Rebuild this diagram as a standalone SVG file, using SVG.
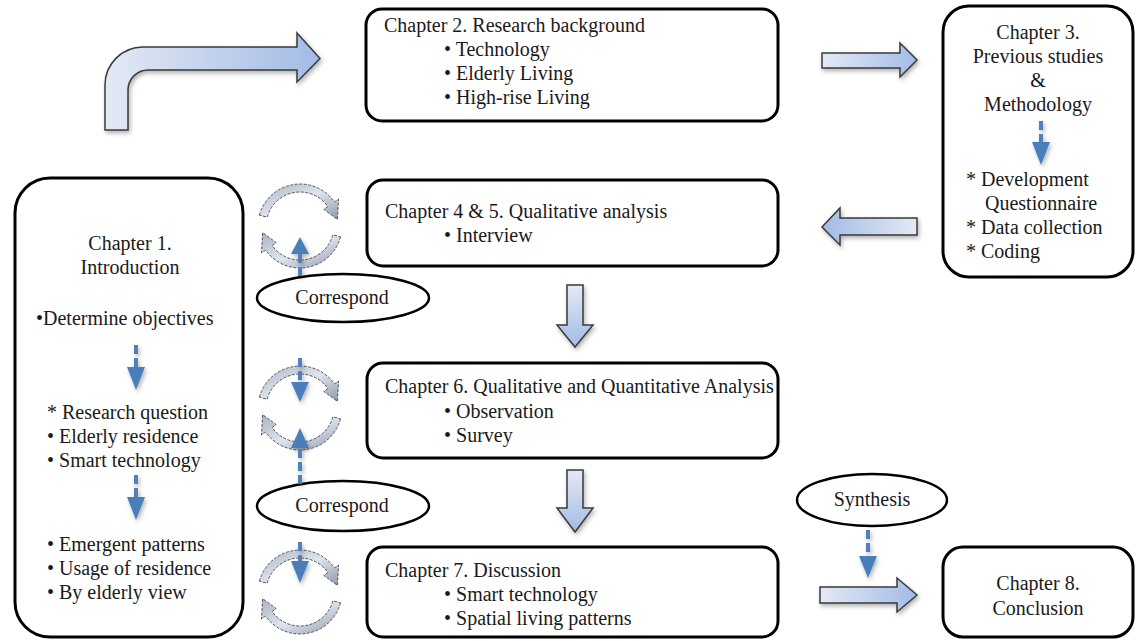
<svg xmlns="http://www.w3.org/2000/svg" width="1136" height="641" viewBox="0 0 1136 641">
<defs>
<style>
.box{fill:#fff;stroke:#000;stroke-width:3}
.ell{fill:#fff;stroke:#000;stroke-width:2.5}
.t{font-family:"Liberation Serif","Times New Roman",serif;font-size:20px;fill:#1a1a1a}
.c{text-anchor:middle}
.blk{stroke:#3a3a3a;stroke-width:1.5;filter:url(#sh)}
.dsh{stroke:#4f81bd;stroke-width:4;stroke-dasharray:9 4;fill:none}
.hd{fill:#4a7ebb}
.cyc{fill:url(#gc);stroke:#555;stroke-width:1;stroke-dasharray:3 1.5}
</style>
<filter id="sh" x="-20%" y="-20%" width="140%" height="150%">
<feDropShadow dx="1.5" dy="2.5" stdDeviation="2" flood-color="#000" flood-opacity="0.3"/>
</filter>
<linearGradient id="gh" x1="0" y1="0" x2="1" y2="0">
<stop offset="0" stop-color="#e4e9f4"/><stop offset="1" stop-color="#a2bbe6"/>
</linearGradient>
<linearGradient id="ghl" x1="1" y1="0" x2="0" y2="0">
<stop offset="0" stop-color="#e4e9f4"/><stop offset="1" stop-color="#a2bbe6"/>
</linearGradient>
<linearGradient id="gv" x1="0" y1="0" x2="0" y2="1">
<stop offset="0" stop-color="#e4e9f4"/><stop offset="1" stop-color="#a2bbe6"/>
</linearGradient>
<linearGradient id="gc" x1="0" y1="0" x2="1" y2="1">
<stop offset="0" stop-color="#a8b2c2"/><stop offset="0.5" stop-color="#dfe5ee"/><stop offset="1" stop-color="#8e99aa"/>
</linearGradient>
<g id="cycle">
<path class="cyc" d="M -40.57,-10.87 A 42 42 0 0 1 34.40,-24.09 L 38.50,-26.96 L 37.42,-6.60 L 23.76,-16.63 L 27.85,-19.50 A 34 34 0 0 0 -32.84,-8.80 Z"/>
<path class="cyc" d="M 40.57,10.87 A 42 42 0 0 1 -34.40,24.09 L -38.50,26.96 L -37.42,6.60 L -23.76,16.63 L -27.85,19.50 A 34 34 0 0 0 32.84,8.80 Z"/>
</g>
</defs>
<rect width="1136" height="641" fill="#fff"/>

<g id="ch1">
<rect class="box" x="15" y="178" width="228" height="459" rx="35"/>
<text class="t c" x="130" y="250">Chapter 1.</text>
<text class="t c" x="130" y="274">Introduction</text>
<text class="t" x="36" y="325">•Determine objectives</text>
<text class="t" x="47" y="419">* Research question</text>
<text class="t" x="47" y="443">• Elderly residence</text>
<text class="t" x="47" y="467">• Smart technology</text>
<text class="t" x="47" y="551">• Emergent patterns</text>
<text class="t" x="47" y="575">• Usage of residence</text>
<text class="t" x="47" y="599">• By elderly view</text>
</g>

<g id="ch2">
<rect class="box" x="366" y="9" width="412" height="112" rx="16"/>
<text class="t" x="384" y="32">Chapter 2. Research background</text>
<text class="t" x="444" y="56">• Technology</text>
<text class="t" x="444" y="80">• Elderly Living</text>
<text class="t" x="444" y="104">• High-rise Living</text>
</g>

<g id="ch3">
<rect class="box" x="943" y="6" width="190" height="271" rx="26"/>
<text class="t c" x="1038" y="39">Chapter 3.</text>
<text class="t c" x="1038" y="63">Previous studies</text>
<text class="t c" x="1038" y="87">&amp;</text>
<text class="t c" x="1038" y="111">Methodology</text>
<text class="t" x="966" y="186">* Development</text>
<text class="t" x="985" y="210">Questionnaire</text>
<text class="t" x="966" y="234">* Data collection</text>
<text class="t" x="966" y="258">* Coding</text>
</g>

<g id="ch45">
<rect class="box" x="367" y="180" width="411" height="86" rx="16"/>
<text class="t" x="385" y="218">Chapter 4 &amp; 5. Qualitative analysis</text>
<text class="t" x="444" y="242">• Interview</text>
</g>

<g id="ch6">
<rect class="box" x="367" y="363" width="411" height="95" rx="16"/>
<text class="t" x="385" y="393">Chapter 6. Qualitative and Quantitative Analysis</text>
<text class="t" x="444" y="418">• Observation</text>
<text class="t" x="444" y="442">• Survey</text>
</g>

<g id="ch7">
<rect class="box" x="367" y="547" width="411" height="90" rx="16"/>
<text class="t" x="385" y="577">Chapter 7. Discussion</text>
<text class="t" x="444" y="601">• Smart technology</text>
<text class="t" x="444" y="625">• Spatial living patterns</text>
</g>

<g id="ch8">
<rect class="box" x="943" y="547" width="190" height="90" rx="20"/>
<text class="t c" x="1038" y="590">Chapter 8.</text>
<text class="t c" x="1038" y="615">Conclusion</text>
</g>

<g id="correspond1">
<ellipse class="ell" cx="343" cy="298" rx="86" ry="24"/>
<text class="t c" x="342" y="304">Correspond</text>
</g>
<g id="correspond2">
<ellipse class="ell" cx="343" cy="506" rx="86" ry="25"/>
<text class="t c" x="342" y="512">Correspond</text>
</g>
<g id="synthesis">
<ellipse class="ell" cx="872" cy="500" rx="75" ry="26"/>
<text class="t c" x="872" y="506">Synthesis</text>
</g>

<g id="connectors">
<path class="blk" fill="url(#gh)" d="M105,130 L105,85 A38,38 0 0 1 143,47 L297,47 L297,33 L320,58.5 L297,82 L297,70 L148,70 A20,20 0 0 0 128,90 L128,130 Z"/>
<path class="blk" fill="url(#gh)" d="M822,53 L900,53 L900,43 L917,60 L900,77 L900,68 L822,68 Z"/>
<path class="blk" fill="url(#ghl)" d="M917,218 L840,218 L840,208 L822,227 L840,245 L840,235 L917,235 Z"/>
<path class="blk" fill="url(#gv)" d="M567,285 L583,285 L583,325 L593,325 L575,347 L557,325 L567,325 Z"/>
<path class="blk" fill="url(#gv)" d="M567,470 L583,470 L583,508 L593,508 L575,532 L557,508 L567,508 Z"/>
<path class="blk" fill="url(#gh)" d="M820,587 L897,587 L897,578 L917,595 L897,612 L897,603 L820,603 Z"/>

<use href="#cycle" x="300" y="226"/>
<use href="#cycle" x="300" y="408"/>
<use href="#cycle" x="300" y="592"/>

<g filter="url(#sh)">
<line class="dsh" x1="300" y1="276" x2="300" y2="252"/>
<path class="hd" d="M291,254 L300,237 L309,254 Z"/>
<line class="dsh" x1="300" y1="358" x2="300" y2="384"/>
<path class="hd" d="M291,382 L300,402 L309,382 Z"/>
<line class="dsh" x1="300" y1="484" x2="300" y2="446"/>
<path class="hd" d="M291,448 L300,428 L309,448 Z"/>
<line class="dsh" x1="300" y1="542" x2="300" y2="562"/>
<path class="hd" d="M291,561 L300,583 L309,561 Z"/>
<line class="dsh" x1="868" y1="530" x2="868" y2="557"/>
<path class="hd" d="M859,556 L868,578 L877,556 Z"/>
<line class="dsh" x1="1041" y1="121" x2="1041" y2="143"/>
<path class="hd" d="M1032,142 L1041,165 L1050,142 Z"/>
<line class="dsh" x1="136" y1="345" x2="136" y2="368"/>
<path class="hd" d="M127,367 L136,390 L145,367 Z"/>
<line class="dsh" x1="136" y1="475" x2="136" y2="498"/>
<path class="hd" d="M127,497 L136,520 L145,497 Z"/>
</g>
</g>
</svg>
